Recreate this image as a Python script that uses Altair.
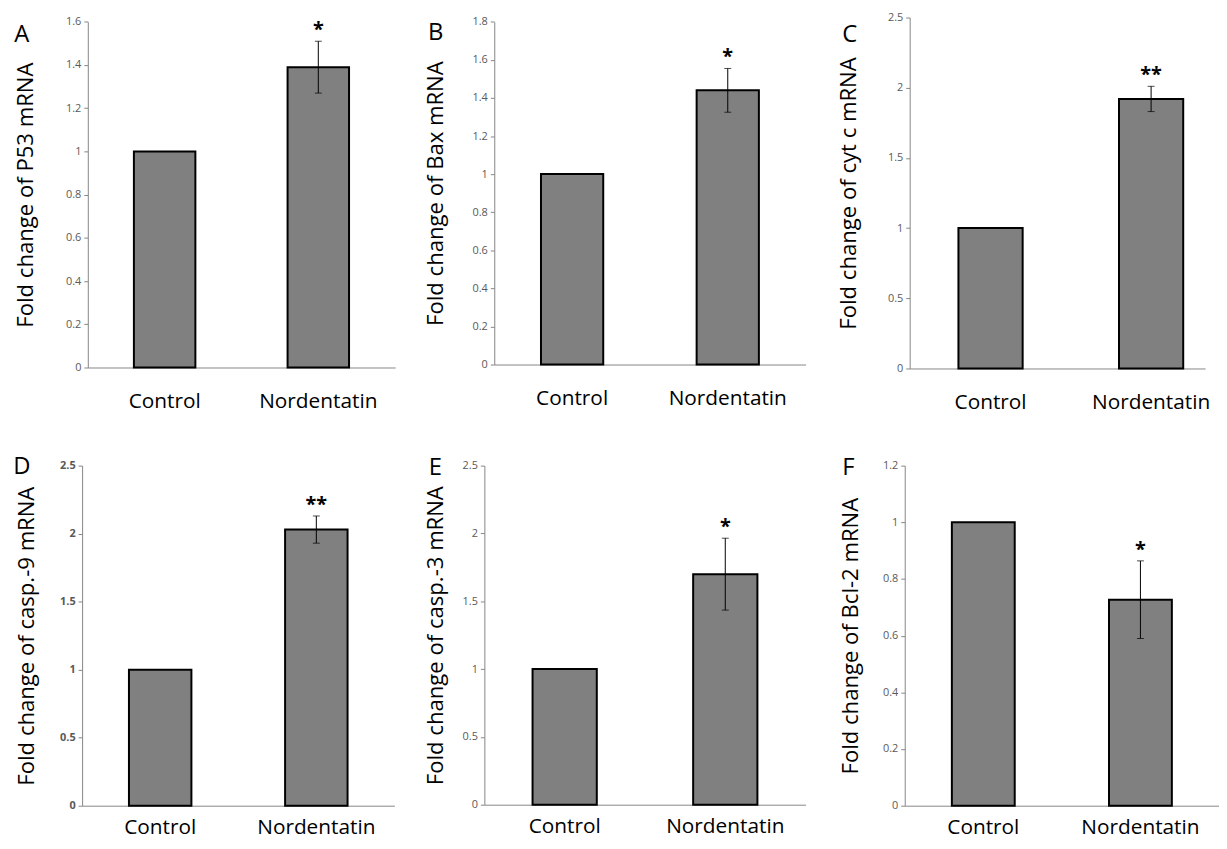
import altair as alt
import pandas as pd

# ---- data ----
letters = ["A", "B", "C", "D", "E", "F"]
titles = [
    "Fold change of P53 mRNA",
    "Fold change of Bax mRNA",
    "Fold change of cyt c mRNA",
    "Fold change of casp.-9 mRNA",
    "Fold change of casp.-3 mRNA",
    "Fold change of Bcl-2 mRNA",
]
groups = ["Control", "Nordentatin"]
control_values = [1.0, 1.0, 1.0, 1.0, 1.0, 1.0]
nordentatin_values = [1.39, 1.44, 1.92, 2.03, 1.70, 0.727]
nordentatin_errors = [0.12, 0.115, 0.09, 0.10, 0.265, 0.137]
significance = ["*", "*", "**", "**", "*", "*"]
y_max = [1.6, 1.8, 2.5, 2.5, 2.5, 1.2]
tick_values = [
    [0, 0.2, 0.4, 0.6, 0.8, 1, 1.2, 1.4, 1.6],
    [0, 0.2, 0.4, 0.6, 0.8, 1, 1.2, 1.4, 1.6, 1.8],
    [0, 0.5, 1, 1.5, 2, 2.5],
    [0, 0.5, 1, 1.5, 2, 2.5],
    [0, 0.5, 1, 1.5, 2, 2.5],
    [0, 0.2, 0.4, 0.6, 0.8, 1, 1.2],
]

# ---- layout / style (not data) ----
# flush layout: next panel origin = this origin + cell width
cell_widths = [409.5, 418.5, 298, 400, 423.25, 317]
x_ranges = [[0, 310], [0, 314], [0, 298], [-5.75, 309.25], [0, 324], [0, 317]]
pad_outer = [0.3, 0.3, 0.22, 0.3, 0.3, 0.3]
band_align = [0.5, 0.5, 0.69, 0.5, 0.5, 0.5]
heights = [353, 350, 354, 343, 342, 343]
y_ranges = [[353, 4.3], [350, 4.3], [354, 0], None, None, None]
y_axis_offset = [0, 0, 0, 5.75, 0, 0]
title_pad = [32.5, 29, 31.5, 25.75, 19.5, 24.75]
x_label_pad = [23, 23, 23, 11, 11, 11]
letter_pos = [(-66.5, 17.5), (-59, 15.4), (-60.5, 17.5), (-66.5, 1.7), (-49.5, 2.7), (-56.75, 2.7)]
bold_ticks = [False, False, False, True, False, False]

FONT = "Open Sans"
AXIS_GRAY = "#868686"


def panel(i):
    bars_df = pd.DataFrame({"group": groups,
                            "value": [control_values[i], nordentatin_values[i]]})
    err_df = pd.DataFrame({
        "group": ["Nordentatin"],
        "lo": [nordentatin_values[i] - nordentatin_errors[i]],
        "hi": [nordentatin_values[i] + nordentatin_errors[i]],
        "sig": [significance[i]],
    })
    xscale = alt.Scale(domain=groups, range=x_ranges[i], paddingInner=0.6,
                       paddingOuter=pad_outer[i], align=band_align[i])
    ys = dict(domain=[0, y_max[i]], nice=False, zero=True)
    if y_ranges[i] is not None:
        ys["range"] = y_ranges[i]
    yscale = alt.Scale(**ys)

    x_main = alt.X("group:N", sort=groups, scale=xscale, title=None,
                   axis=alt.Axis(labelAngle=0, labelFont=FONT,
                                 labelFontSize=21, labelColor="#000000",
                                 ticks=False, labelPadding=x_label_pad[i],
                                 domainColor=AXIS_GRAY, domainWidth=1))
    x_plain = alt.X("group:N", sort=groups, scale=xscale, title=None)

    yaxis = dict(values=tick_values[i], tickCount=len(tick_values[i]),
                 format="~g",
                 titleFont=FONT, titleFontSize=22.3, titleFontWeight="normal",
                 titleColor="#000000", titlePadding=title_pad[i],
                 titleBaseline="middle",
                 labelFont=FONT, labelFontSize=11, labelColor="#595959",
                 labelFontWeight="bold" if bold_ticks[i] else "normal",
                 labelPadding=3, labelOverlap=False,
                 tickSize=4, tickColor=AXIS_GRAY,
                 domainColor=AXIS_GRAY, domainWidth=1,
                 grid=False, minExtent=30, maxExtent=30)
    if y_axis_offset[i]:
        yaxis["offset"] = y_axis_offset[i]
    y_main = alt.Y("value:Q", scale=yscale, title=titles[i], axis=alt.Axis(**yaxis))

    def y_plain(field):
        return alt.Y(field, scale=yscale, title=titles[i])

    bars = alt.Chart(bars_df).mark_bar(
        color="#808080", stroke="#000000", strokeWidth=2
    ).encode(x=x_main, y=y_main)

    rule = alt.Chart(err_df).mark_rule(color="#000000", strokeWidth=1).encode(
        x=x_plain, y=y_plain("lo:Q"), y2="hi:Q")
    cap_lo = alt.Chart(err_df).mark_tick(color="#000000", thickness=1, size=7).encode(
        x=x_plain, y=y_plain("lo:Q"))
    cap_hi = alt.Chart(err_df).mark_tick(color="#000000", thickness=1, size=7).encode(
        x=x_plain, y=y_plain("hi:Q"))
    star = alt.Chart(err_df).mark_text(
        font=FONT, fontSize=20, fontWeight="bold", baseline="bottom",
        dy=-1, color="#000000"
    ).encode(x=x_plain, y=y_plain("hi:Q"), text="sig:N")

    lx, ly = letter_pos[i]
    letter = alt.Chart(alt.Data(values=[{"t": letters[i]}])).mark_text(
        font=FONT, fontSize=24, align="center", baseline="middle", color="#000000"
    ).encode(x=alt.value(lx), y=alt.value(ly), text="t:N")

    return alt.layer(bars, rule, cap_lo, cap_hi, star, letter).properties(
        width=cell_widths[i], height=heights[i])


row1 = alt.hconcat(panel(0), panel(1), panel(2), spacing=0, bounds="flush")
row2 = alt.hconcat(panel(3), panel(4), panel(5), spacing=0, bounds="flush")

chart = alt.vconcat(row1, row2, spacing=43).properties(
    padding={"left": 4.5, "top": 0, "right": 0, "bottom": 0},
    background="white",
).configure_view(stroke=None).configure_axis(labelOverlap=False)

chart.save("out.html", embed_options={"renderer": "svg", "actions": False})
